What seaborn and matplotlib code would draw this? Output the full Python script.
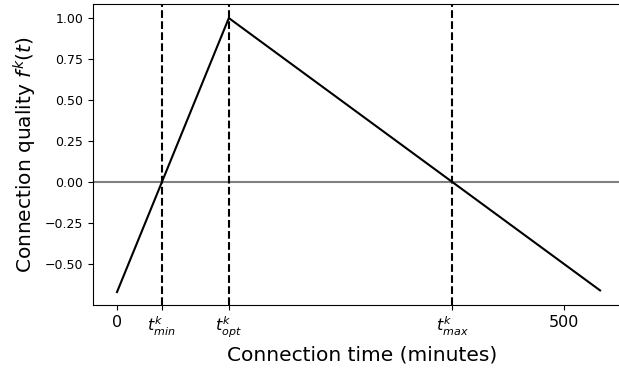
import numpy as np
import pandas as pd
import seaborn as sns
import matplotlib
matplotlib.use("Agg")
import matplotlib.pyplot as plt

# characteristic times (minutes)
t_min = 50
t_opt = 125
t_max = 375

# piecewise linear quality curve
t_points = [0, t_opt, 540]
f_points = [-0.67, 1.0, -0.66]

xtick_pos = [0, t_min, t_opt, t_max, 500]
xtick_labels = ["0", r"$t^k_{min}$", r"$t^k_{opt}$", r"$t^k_{max}$", "500"]

df = pd.DataFrame({"t": t_points, "f": f_points})

fig = plt.figure(figsize=(6.19, 3.74), dpi=100)
ax = fig.add_axes([0.150, 0.184, 0.87, 0.805])

ax.axhline(0, color="gray", lw=1.5)
for tv in [t_min, t_opt, t_max]:
    ax.axvline(tv, color="black", ls="--", lw=1.5)
sns.lineplot(data=df, x="t", y="f", color="black", lw=1.5, ax=ax)

ax.set_xlim(-27, 575)
ax.set_ylim(-0.75, 1.085)
ax.spines["right"].set_visible(False)
ax.set_xticks(xtick_pos)
ax.set_xticklabels(xtick_labels, fontsize=11.5)
ax.set_yticks([-0.5, -0.25, 0, 0.25, 0.5, 0.75, 1.0])
ax.set_yticklabels(["−0.50", "−0.25", "0.00", "0.25", "0.50", "0.75", "1.00"], fontsize=9)
ax.set_xlabel("Connection time (minutes)", fontsize=14.5)
ax.set_ylabel(r"Connection quality $f^k(t)$", fontsize=14.5)

fig.savefig("out.png", dpi=100)
